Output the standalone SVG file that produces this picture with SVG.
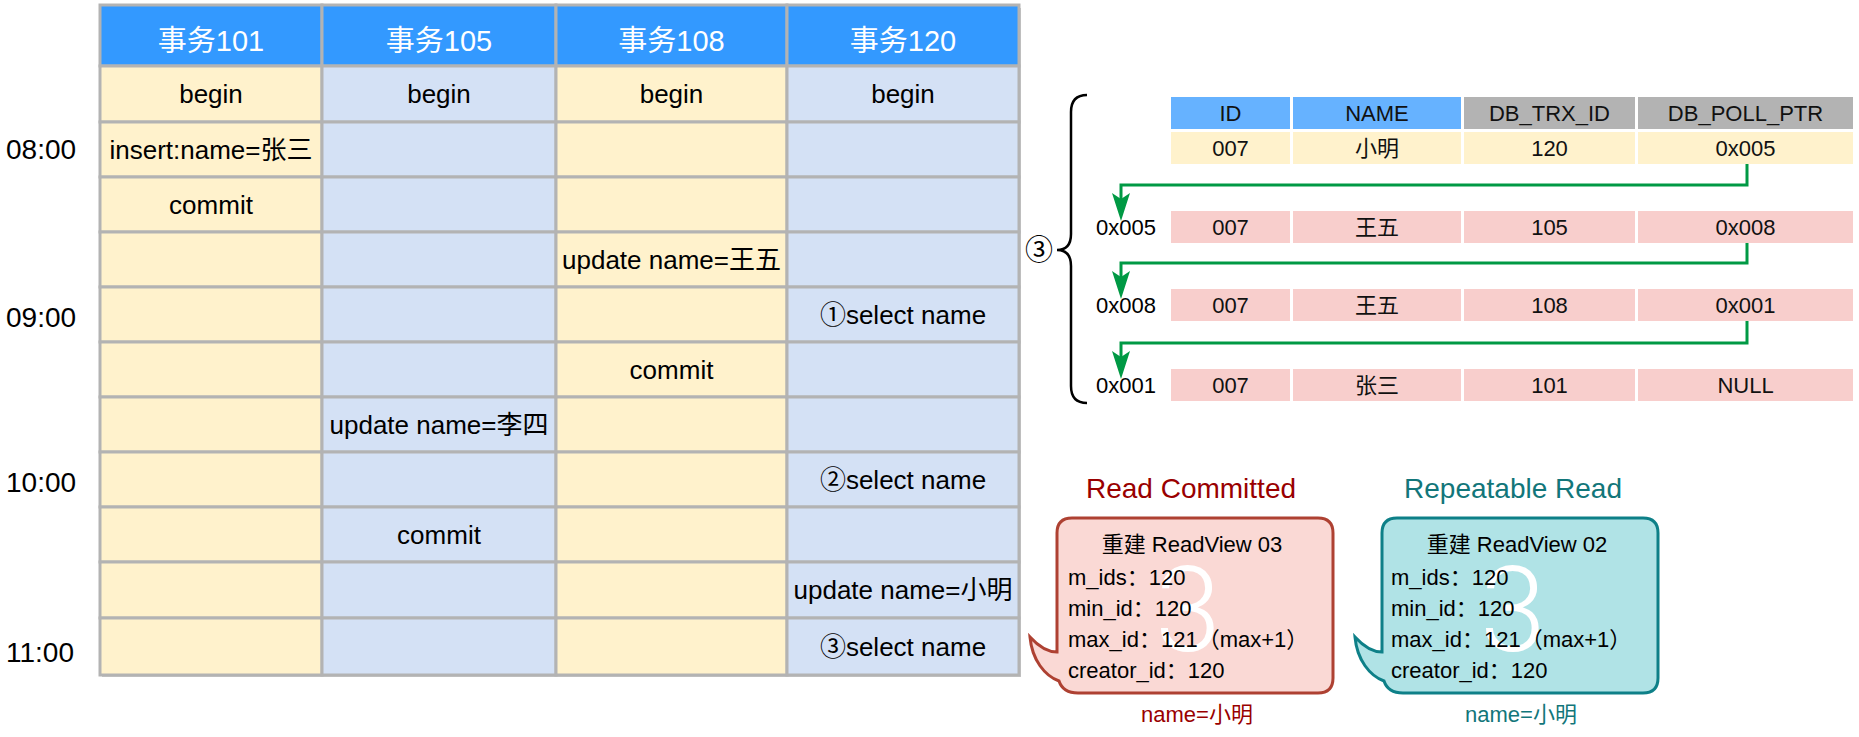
<svg xmlns="http://www.w3.org/2000/svg" width="1859" height="737" viewBox="0 0 1859 737">
<style>
text{font-family:"Liberation Sans","Noto Sans CJK SC",sans-serif;}
.hd{fill:#3399FF;stroke:#B3B3B3;stroke-width:3;}
.yl{fill:#FFF2CC;stroke:#B3B3B3;stroke-width:3;}
.bl{fill:#D4E1F5;stroke:#B3B3B3;stroke-width:3;}
.ht{font-size:29px;fill:#FFFFFF;text-anchor:middle;}
.ct{font-size:26px;fill:#000000;text-anchor:middle;}
.tm{font-size:28px;fill:#000000;}
.rh1{fill:#66B2FF;}
.rh2{fill:#B3B3B3;}
.ry{fill:#FFF2CC;}
.rp{fill:#F8CECC;}
.rt{font-size:22px;fill:#111111;text-anchor:middle;}
.rl{font-size:22px;fill:#000000;}
.lnk{fill:none;stroke:#009944;stroke-width:3;marker-end:url(#arr);}
.bt{font-size:22px;fill:#000000;}
.big{font-size:118px;fill:#FFFFFF;text-anchor:middle;font-family:"Roboto","Liberation Sans",sans-serif;font-weight:300;}
</style>
<defs>
<marker id="arr" viewBox="0 0 28 18" refX="6" refY="9" markerWidth="28" markerHeight="18" markerUnits="userSpaceOnUse" orient="auto">
<path d="M0,0 L28,9 L0,18 L6,9 Z" fill="#009944"/>
</marker>
</defs>
<rect x="0" y="0" width="1859" height="737" fill="#FFFFFF"/>

<!-- time labels -->
<g id="time-labels">
<text class="tm" x="6" y="159">08:00</text>
<text class="tm" x="6" y="327">09:00</text>
<text class="tm" x="6" y="492">10:00</text>
<text class="tm" x="6" y="662">11:00</text>
</g>

<!-- main table -->
<g id="main-table">
<rect x="102" y="8" width="919" height="669" fill="#C8C8C8"/>
<g id="header">
<rect class="hd" x="100" y="5" width="222" height="61"/>
<rect class="hd" x="322" y="5" width="234" height="61"/>
<rect class="hd" x="556" y="5" width="231" height="61"/>
<rect class="hd" x="787" y="5" width="232" height="61"/>
<text class="ht" x="211" y="51">事务101</text>
<text class="ht" x="439" y="51">事务105</text>
<text class="ht" x="671.5" y="51">事务108</text>
<text class="ht" x="903" y="51">事务120</text>
</g>
<g id="col-101">
<rect class="yl" x="100" y="66" width="222" height="56"/>
<rect class="yl" x="100" y="122" width="222" height="55"/>
<rect class="yl" x="100" y="177" width="222" height="55"/>
<rect class="yl" x="100" y="232" width="222" height="55"/>
<rect class="yl" x="100" y="287" width="222" height="55"/>
<rect class="yl" x="100" y="342" width="222" height="55"/>
<rect class="yl" x="100" y="397" width="222" height="55"/>
<rect class="yl" x="100" y="452" width="222" height="55"/>
<rect class="yl" x="100" y="507" width="222" height="55"/>
<rect class="yl" x="100" y="562" width="222" height="56"/>
<rect class="yl" x="100" y="618" width="222" height="57"/>
</g>
<g id="col-105">
<rect class="bl" x="322" y="66" width="234" height="56"/>
<rect class="bl" x="322" y="122" width="234" height="55"/>
<rect class="bl" x="322" y="177" width="234" height="55"/>
<rect class="bl" x="322" y="232" width="234" height="55"/>
<rect class="bl" x="322" y="287" width="234" height="55"/>
<rect class="bl" x="322" y="342" width="234" height="55"/>
<rect class="bl" x="322" y="397" width="234" height="55"/>
<rect class="bl" x="322" y="452" width="234" height="55"/>
<rect class="bl" x="322" y="507" width="234" height="55"/>
<rect class="bl" x="322" y="562" width="234" height="56"/>
<rect class="bl" x="322" y="618" width="234" height="57"/>
</g>
<g id="col-108">
<rect class="yl" x="556" y="66" width="231" height="56"/>
<rect class="yl" x="556" y="122" width="231" height="55"/>
<rect class="yl" x="556" y="177" width="231" height="55"/>
<rect class="yl" x="556" y="232" width="231" height="55"/>
<rect class="yl" x="556" y="287" width="231" height="55"/>
<rect class="yl" x="556" y="342" width="231" height="55"/>
<rect class="yl" x="556" y="397" width="231" height="55"/>
<rect class="yl" x="556" y="452" width="231" height="55"/>
<rect class="yl" x="556" y="507" width="231" height="55"/>
<rect class="yl" x="556" y="562" width="231" height="56"/>
<rect class="yl" x="556" y="618" width="231" height="57"/>
</g>
<g id="col-120">
<rect class="bl" x="787" y="66" width="232" height="56"/>
<rect class="bl" x="787" y="122" width="232" height="55"/>
<rect class="bl" x="787" y="177" width="232" height="55"/>
<rect class="bl" x="787" y="232" width="232" height="55"/>
<rect class="bl" x="787" y="287" width="232" height="55"/>
<rect class="bl" x="787" y="342" width="232" height="55"/>
<rect class="bl" x="787" y="397" width="232" height="55"/>
<rect class="bl" x="787" y="452" width="232" height="55"/>
<rect class="bl" x="787" y="507" width="232" height="55"/>
<rect class="bl" x="787" y="562" width="232" height="56"/>
<rect class="bl" x="787" y="618" width="232" height="57"/>
</g>
<g id="cell-texts">
<text class="ct" x="211" y="103">begin</text>
<text class="ct" x="439" y="103">begin</text>
<text class="ct" x="671.5" y="103">begin</text>
<text class="ct" x="903" y="103">begin</text>
<text class="ct" x="211" y="158.5">insert:name=张三</text>
<text class="ct" x="211" y="213.5">commit</text>
<text class="ct" x="671.5" y="268.5">update name=王五</text>
<text class="ct" x="903" y="323.5">①select name</text>
<text class="ct" x="671.5" y="378.5">commit</text>
<text class="ct" x="439" y="433.5">update name=李四</text>
<text class="ct" x="903" y="488.5">②select name</text>
<text class="ct" x="439" y="543.5">commit</text>
<text class="ct" x="903" y="599">update name=小明</text>
<text class="ct" x="903" y="655.5">③select name</text>
</g>
</g>

<!-- brace -->
<g id="brace">
<path d="M1087,95 Q1071,95 1071,112 V234 Q1071,250 1057,250 Q1071,250 1071,266 V386 Q1071,403 1087,403" fill="none" stroke="#000000" stroke-width="2.5"/>
<text x="1039" y="260" font-size="28" text-anchor="middle">③</text>
</g>

<!-- version chain table -->
<g id="row-current">
<rect class="rh1" x="1171" y="97" width="119" height="32"/>
<rect class="rh1" x="1293" y="97" width="168" height="32"/>
<rect class="rh2" x="1464" y="97" width="171" height="32"/>
<rect class="rh2" x="1638" y="97" width="215" height="32"/>
<text class="rt" x="1230.5" y="120.5">ID</text>
<text class="rt" x="1377" y="120.5">NAME</text>
<text class="rt" x="1549.5" y="120.5">DB_TRX_ID</text>
<text class="rt" x="1745.5" y="120.5">DB_POLL_PTR</text>
<rect class="ry" x="1171" y="132" width="119" height="32"/>
<rect class="ry" x="1293" y="132" width="168" height="32"/>
<rect class="ry" x="1464" y="132" width="171" height="32"/>
<rect class="ry" x="1638" y="132" width="215" height="32"/>
<text class="rt" x="1230.5" y="155.5">007</text>
<text class="rt" x="1377" y="155.5">小明</text>
<text class="rt" x="1549.5" y="155.5">120</text>
<text class="rt" x="1745.5" y="155.5">0x005</text>
</g>
<g id="row-0x005">
<text class="rl" x="1096" y="234.5">0x005</text>
<rect class="rp" x="1171" y="211" width="119" height="32"/>
<rect class="rp" x="1293" y="211" width="168" height="32"/>
<rect class="rp" x="1464" y="211" width="171" height="32"/>
<rect class="rp" x="1638" y="211" width="215" height="32"/>
<text class="rt" x="1230.5" y="234.5">007</text>
<text class="rt" x="1377" y="234.5">王五</text>
<text class="rt" x="1549.5" y="234.5">105</text>
<text class="rt" x="1745.5" y="234.5">0x008</text>
</g>
<g id="row-0x008">
<text class="rl" x="1096" y="312.5">0x008</text>
<rect class="rp" x="1171" y="289" width="119" height="32"/>
<rect class="rp" x="1293" y="289" width="168" height="32"/>
<rect class="rp" x="1464" y="289" width="171" height="32"/>
<rect class="rp" x="1638" y="289" width="215" height="32"/>
<text class="rt" x="1230.5" y="312.5">007</text>
<text class="rt" x="1377" y="312.5">王五</text>
<text class="rt" x="1549.5" y="312.5">108</text>
<text class="rt" x="1745.5" y="312.5">0x001</text>
</g>
<g id="row-0x001">
<text class="rl" x="1096" y="392.5">0x001</text>
<rect class="rp" x="1171" y="369" width="119" height="32"/>
<rect class="rp" x="1293" y="369" width="168" height="32"/>
<rect class="rp" x="1464" y="369" width="171" height="32"/>
<rect class="rp" x="1638" y="369" width="215" height="32"/>
<text class="rt" x="1230.5" y="392.5">007</text>
<text class="rt" x="1377" y="392.5">张三</text>
<text class="rt" x="1549.5" y="392.5">101</text>
<text class="rt" x="1745.5" y="392.5">NULL</text>
</g>

<!-- connectors -->
<g id="connectors">
<path class="lnk" d="M1747,164 V185 H1121 V199"/>
<path class="lnk" d="M1747,243 V263 H1121 V277"/>
<path class="lnk" d="M1747,321 V343 H1121 V357"/>
</g>

<!-- Read Committed bubble -->
<g id="read-committed">
<text x="1191" y="498" font-size="28" fill="#990000" text-anchor="middle">Read Committed</text>
<path d="M1072,518 H1318 Q1333,518 1333,533 V678 Q1333,693 1318,693 H1078 Q1063,693 1059,681 C1045,676 1032,660 1030,637 C1040,648 1049,652 1057,652 V533 Q1057,518 1072,518 Z" fill="#FAD9D5" stroke="#AE4132" stroke-width="3"/>
<text class="big" x="1188" y="651">3</text>
<text class="bt" x="1192" y="552" text-anchor="middle">重建 ReadView 03</text>
<text class="bt" x="1068" y="585">m_ids：120</text>
<text class="bt" x="1068" y="616">min_id：120</text>
<text class="bt" x="1068" y="647">max_id：121（max+1）</text>
<text class="bt" x="1068" y="678">creator_id：120</text>
<text x="1197" y="722" font-size="22" fill="#990000" text-anchor="middle">name=小明</text>
</g>

<!-- Repeatable Read bubble -->
<g id="repeatable-read">
<text x="1513" y="498" font-size="28" fill="#12767A" text-anchor="middle">Repeatable Read</text>
<path d="M1397,518 H1643 Q1658,518 1658,533 V678 Q1658,693 1643,693 H1403 Q1388,693 1384,681 C1370,676 1357,660 1355,637 C1365,648 1374,652 1382,652 V533 Q1382,518 1397,518 Z" fill="#B0E3E6" stroke="#0E8088" stroke-width="3"/>
<text class="big" x="1513" y="651">3</text>
<text class="bt" x="1517" y="552" text-anchor="middle">重建 ReadView 02</text>
<text class="bt" x="1391" y="585">m_ids：120</text>
<text class="bt" x="1391" y="616">min_id：120</text>
<text class="bt" x="1391" y="647">max_id：121（max+1）</text>
<text class="bt" x="1391" y="678">creator_id：120</text>
<text x="1521" y="722" font-size="22" fill="#12767A" text-anchor="middle">name=小明</text>
</g>
</svg>
